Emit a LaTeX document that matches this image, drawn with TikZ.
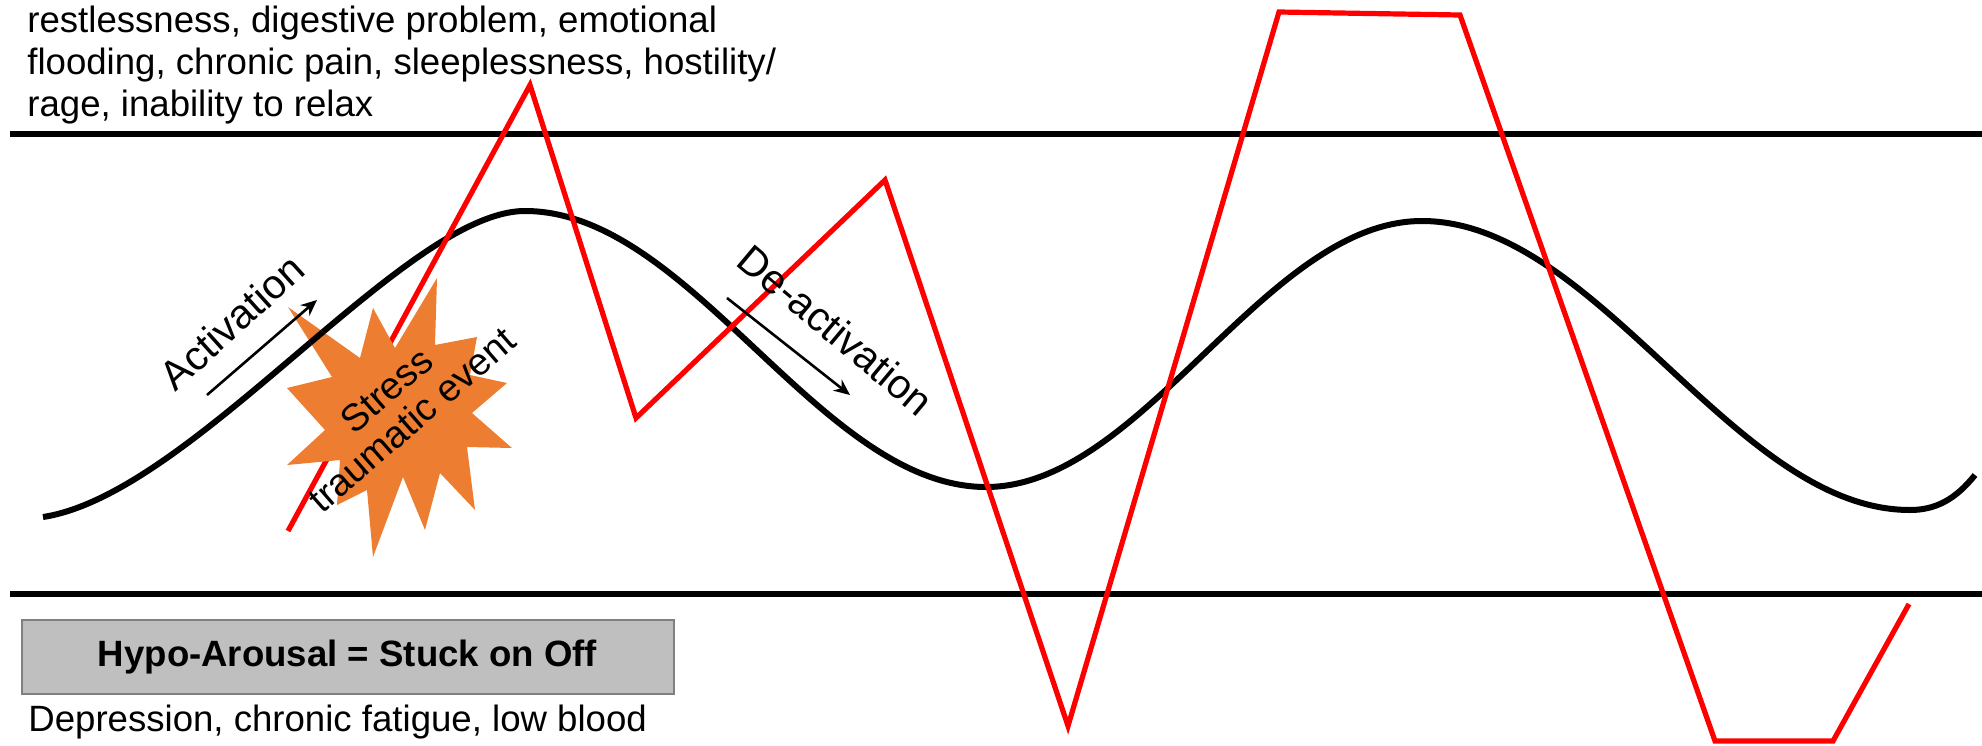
\documentclass[tikz,border=0pt]{standalone}
\usepackage{fontspec}
\setmainfont{Liberation Sans}
\usetikzlibrary{arrows.meta}
\definecolor{burst}{RGB}{237,125,49}
\definecolor{boxfill}{RGB}{191,191,191}
\definecolor{boxline}{RGB}{128,128,128}
\newcommand\burstpath{(288,307) -- (360,358) -- (373,308) -- (395,348) -- (437,278) -- (435,345) -- (477,337) -- (470,375) -- (507,383) -- (472,413) -- (512,448) -- (467,447) -- (475,510) -- (440,473) -- (425,530) -- (403,477) -- (373,557) -- (367,490) -- (337,505) -- (340,460) -- (287,465) -- (325,430) -- (287,388) -- (332,377) -- cycle}
\newcommand\wavepath{(43,517) .. controls (193,494) and (405,211) .. (525,211) .. controls (691,211) and (820,487) .. (986,487) .. controls (1143,487) and (1265,221) .. (1422,221) .. controls (1598,221) and (1734,510) .. (1910,510) .. controls (1935,510) and (1955,500) .. (1975,475)}
\begin{document}
\begin{tikzpicture}[x=0.5pt,y=-0.5pt,
  hline/.style={line width=3.2pt},
  wave/.style={line width=3pt, black},
  zig/.style={line width=2.6pt, red},
  lbl/.style={font=\fontsize{18.3}{21}\selectfont, inner sep=0pt},
  rlbl/.style={font=\fontsize{20.5}{22}\selectfont, inner sep=0pt},
  thinarrow/.style={line width=1.3pt, -{Stealth[length=8pt,width=7pt]}}]
\useasboundingbox (0,0) rectangle (1982,745);
% band lines
\coordinate (tl) at (10,134);
\coordinate (tr) at (1982,134);
\coordinate (bl) at (10,594);
\coordinate (br) at (1982,594);
\draw[hline] (tl) -- (tr);
\draw[hline] (bl) -- (br);
% wave
\draw[wave] \wavepath;
% red zigzag
\draw[zig] (288,531) -- (530,85) -- (636,418) -- (885,180) -- (1068,726) -- (1279,12) -- (1460,15) -- (1715,741) -- (1833,741) -- (1909,604);
% burst
\fill[burst] \burstpath;
\begin{scope}
\clip \burstpath;
\draw[wave] \wavepath;
\end{scope}
% labels
\node[lbl, anchor=north west, align=left] (hyper) at (27,6) {restlessness, digestive problem, emotional\\flooding, chronic pain, sleeplessness, hostility/\\rage, inability to relax};
\node[rlbl, rotate=42] (act) at (232,322) {Activation};
\coordinate (a1) at (207,395);
\coordinate (a2) at (317,300);
\draw[thinarrow] (a1) -- (a2);
\node[rlbl, rotate=-40] (deact) at (836,330) {De-activation};
\coordinate (d1) at (727,298);
\coordinate (d2) at (850,395);
\draw[thinarrow] (d1) -- (d2);
\node[inner sep=0pt, rotate=41, align=center, font=\fontsize{19}{19.5}\selectfont] (stress) at (399,405) {Stress\\traumatic event};
\node[draw=boxline, fill=boxfill, line width=1pt, minimum width=326pt, minimum height=37pt, inner sep=0pt, font=\bfseries\fontsize{18.3}{21}\selectfont] (hypo) at (347.5,657) {Hypo-Arousal = Stuck on Off};
\node[lbl, anchor=base west] (dep) at (28,731) {Depression, chronic fatigue, low blood};
\end{tikzpicture}
\end{document}
